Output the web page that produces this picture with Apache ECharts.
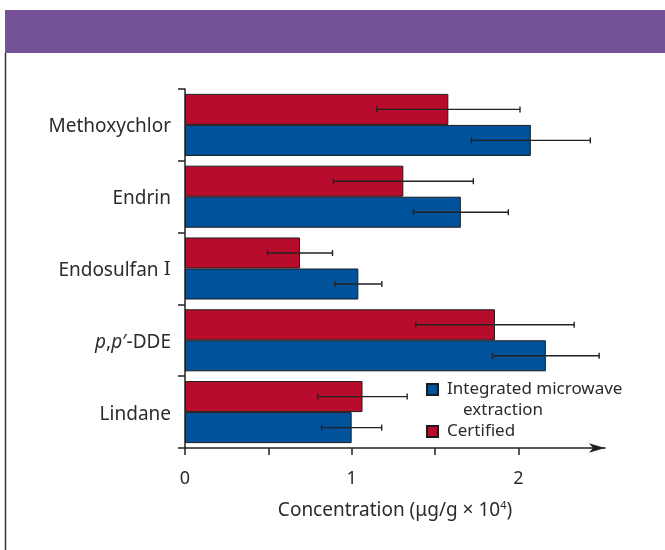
<!DOCTYPE html>
<html>
<head>
<meta charset="utf-8">
<script src="https://cdn.jsdelivr.net/npm/echarts@6/dist/echarts.min.js"></script>
<style>
html,body{margin:0;padding:0;background:#fff;}
#chart{width:665px;height:550px;}
</style>
</head>
<body>
<div id="chart"></div>
<script>
// ---- data ----
const categories = ['Methoxychlor', 'Endrin', 'Endosulfan I', 'p,p′-DDE', 'Lindane'];
const certifiedValues = [1.58, 1.31, 0.69, 1.86, 1.065];
const certifiedErrors = [0.43, 0.42, 0.195, 0.475, 0.268];
const imeValues = [2.075, 1.655, 1.04, 2.165, 1.0];
const imeErrors = [0.357, 0.285, 0.141, 0.32, 0.18];
const xTickValues = [0, 0.5, 1, 1.5, 2];
const xLabelValues = [0, 1, 2];

const seriesNames = ['Integrated microwave extraction', 'Certified'];
const RED = '#B80C2C', BLUE = '#00529B', INK = '#222', TXT = '#2b2b2b';
const FONT = 'Noto Sans';
const CAT_GAP = 0.136;

function errData(vals, errs) {
  return vals.map((v, i) => [v - errs[i], v + errs[i], i]);
}
function errRender(sign) {
  return function (params, api) {
    const c = api.value(2);
    const lo = api.coord([api.value(0), c]);
    const hi = api.coord([api.value(1), c]);
    const band = api.size([0, 1])[1];
    const y = lo[1] + sign * band * (1 - CAT_GAP) / 4;
    const cap = 3;
    const st = { stroke: INK, lineWidth: 1.4 };
    return {
      type: 'group',
      children: [
        { type: 'line', shape: { x1: lo[0], y1: y, x2: hi[0], y2: y }, style: st },
        { type: 'line', shape: { x1: lo[0], y1: y - cap, x2: lo[0], y2: y + cap }, style: st },
        { type: 'line', shape: { x1: hi[0], y1: y - cap, x2: hi[0], y2: y + cap }, style: st }
      ]
    };
  };
}

const chart = echarts.init(document.getElementById('chart'));
chart.setOption({
  backgroundColor: '#fff',
  animation: false,
  textStyle: { fontFamily: FONT },
  graphic: [
    { type: 'rect', shape: { x: 5, y: 10, width: 660, height: 43 }, style: { fill: '#76529B' }, silent: true },
    { type: 'line', shape: { x1: 5.5, y1: 53, x2: 5.5, y2: 550 }, style: { stroke: '#333', lineWidth: 1.5 }, silent: true }
  ],
  grid: { left: 185, right: 60, top: 89, bottom: 102, containLabel: false },
  legend: [
    {
      data: [{
        name: seriesNames[0],
        textStyle: { padding: [21, 0, 0, 4] }
      }],
      left: 426, top: 381, padding: 0,
      itemWidth: 11, itemHeight: 11, icon: 'rect',
      selectedMode: false,
      formatter: () => '{a|Integrated microwave}\n{b|extraction}',
      textStyle: {
        color: TXT, fontFamily: FONT, fontSize: 17,
        rich: {
          a: { fontSize: 17, fontFamily: FONT, color: TXT, lineHeight: 21 },
          b: { fontSize: 17, fontFamily: FONT, color: TXT, lineHeight: 21, padding: [0, 0, 0, 16] }
        }
      }
    },
    {
      data: [{ name: seriesNames[1], textStyle: { padding: [0, 0, 0, 4] } }],
      left: 426, top: 421, padding: 0,
      itemWidth: 11, itemHeight: 11, icon: 'rect',
      selectedMode: false,
      textStyle: { color: TXT, fontFamily: FONT, fontSize: 17, lineHeight: 21 }
    }
  ],
  xAxis: {
    type: 'value', min: 0, max: 2.52,
    name: '{a|Concentration (μg/g × 10}{s|4}{a|)}',
    nameLocation: 'middle', nameGap: 52,
    nameTextStyle: {
      rich: {
        a: { fontSize: 19, fontFamily: FONT, color: TXT },
        s: { fontSize: 11, fontFamily: FONT, color: TXT, verticalAlign: 'top', padding: [0, 0, 10, 0] }
      }
    },
    axisLine: { show: true, symbol: ['none', 'arrow'], symbolSize: [7, 16], lineStyle: { color: INK, width: 1.5 } },
    axisTick: { show: true, length: 7, customValues: xTickValues, lineStyle: { color: INK, width: 1.5 } },
    axisLabel: { customValues: xLabelValues, color: TXT, fontSize: 18, fontFamily: FONT, margin: 22 },
    splitLine: { show: false }
  },
  yAxis: {
    type: 'category', data: categories, inverse: true,
    axisLine: { show: true, lineStyle: { color: INK, width: 1.5 } },
    axisTick: { show: true, length: 7, lineStyle: { color: INK, width: 1.5 } },
    axisLabel: {
      color: TXT, fontSize: 19, fontFamily: FONT, margin: 14, padding: [4, 0, 0, 0],
      formatter: v => v === 'p,p′-DDE' ? '{i|p},{i|p}′-DDE' : (v === 'Endosulfan I' ? 'Endosulfan {r|I}' : v),
      rich: {
        i: { fontStyle: 'italic', fontSize: 19, fontFamily: FONT, color: TXT },
        r: { fontSize: 19, fontFamily: 'DejaVu Serif', color: TXT }
      }
    },
    splitLine: { show: false }
  },
  series: [
    {
      name: seriesNames[1], type: 'bar', data: certifiedValues,
      barGap: '0%', barCategoryGap: (CAT_GAP * 100) + '%',
      itemStyle: { color: RED, borderColor: '#1c1c1c', borderWidth: 1 }
    },
    {
      name: seriesNames[0], type: 'bar', data: imeValues,
      barGap: '0%', barCategoryGap: (CAT_GAP * 100) + '%',
      itemStyle: { color: BLUE, borderColor: '#1c1c1c', borderWidth: 1 }
    },
    {
      type: 'custom', name: 'certErr', renderItem: errRender(-1),
      data: errData(certifiedValues, certifiedErrors),
      encode: { x: [0, 1], y: 2 }, z: 10, silent: true
    },
    {
      type: 'custom', name: 'imeErr', renderItem: errRender(1),
      data: errData(imeValues, imeErrors),
      encode: { x: [0, 1], y: 2 }, z: 10, silent: true
    }
  ]
});
</script>
</body>
</html>
